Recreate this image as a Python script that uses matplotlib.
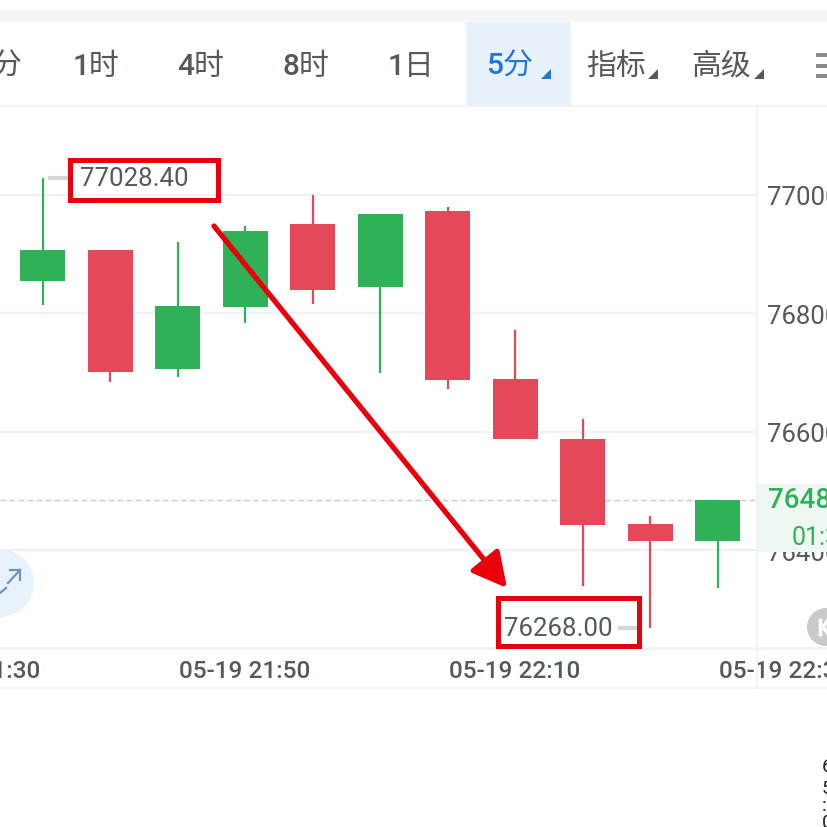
import matplotlib
matplotlib.use("Agg")
import matplotlib.pyplot as plt
from matplotlib.patches import Rectangle, Circle, Polygon

plt.rcParams['font.family'] = ['Roboto', 'Noto Sans CJK SC', 'DejaVu Sans']

# candle values
idx = [0, 1, 2, 3, 4, 5, 6, 7, 8, 9, 10]
opens = [76855, 76907, 76706, 76811, 76951, 76845, 76973, 76689, 76588, 76444, 76415]
closes = [76907, 76701, 76812, 76939, 76839, 76968, 76687, 76588, 76442, 76415, 76484]
highs = [77028.4, 76907, 76921, 76948, 77000, 76968, 76980, 76772, 76621, 76458, 76484]
lows = [76814, 76684, 76692, 76784, 76816, 76699, 76672, 76588, 76339, 76268, 76336]

price_ticks = [76400, 76600, 76800, 77000]
time_idx = [-1, 3, 7, 11]
time_labels = ['05-19 21:30', '05-19 21:50', '05-19 22:10', '05-19 22:30']
last_price = 76484
high_label = '77028.40'
low_label = '76268.00'

tabs = ['分', '1时', '4时', '8时', '1日', '5分', '指标', '高级']
tab_x = [7, 96, 201, 306, 411, 510, 616, 721]

GREEN = '#2fb158'
RED = '#e54858'
GREY = '#55585e'
W = 828

fig = plt.figure(figsize=(8.28, 8.28), dpi=100, facecolor='white')

# price chart, pixel box x 0-757, y 105-648
ax = fig.add_axes([0, (W - 649) / W, 757 / W, (648 - 105) / W])
ax.patch.set_alpha(0)
ax.set_xlim(-0.63, 10.585)
ax.set_ylim(76234.4, 77152)
for s in ax.spines.values():
    s.set_visible(False)
ax.yaxis.tick_right()
ax.set_yticks(price_ticks)
ax.set_yticklabels([str(p) for p in price_ticks])
ax.set_xticks([])
ax.tick_params(axis='y', length=0, pad=7.5, labelsize=18.5, labelcolor=GREY)
ax.grid(axis='y', color='#f0f1f3', lw=1.6)
ax.set_axisbelow(True)

ax.axhline(last_price, color='#c9cacc', lw=1, ls=(0, (4, 2.5)), zorder=1)

for i, o, c, h, l in zip(idx, opens, closes, highs, lows):
    col = GREEN if c >= o else RED
    ax.vlines(i, l, h, color=col, lw=1.6, zorder=2)
    ax.bar(i, abs(c - o), bottom=min(o, c), width=0.667, color=col, zorder=3)

for i, t in zip(time_idx, time_labels):
    ax.text(i, -0.041, t, transform=ax.get_xaxis_transform(), ha='center', va='center',
            fontsize=17.6, color=GREY, fontweight='medium')

# high / low markers
ax.plot([0.08, 0.4], [highs[0], highs[0]], color='#d5d6d8', lw=3, solid_capstyle='butt')
ax.plot([8.53, 8.8], [lows[9], lows[9]], color='#d5d6d8', lw=3, solid_capstyle='butt')
ax.text(0.55, highs[0], high_label, ha='left', va='center', fontsize=18.6, color=GREY, zorder=6)
ax.text(8.45, lows[9], low_label, ha='right', va='center', fontsize=18.6, color=GREY, zorder=6)

# everything else is in pixel coordinates on top
ov = fig.add_axes([0, 0, 1, 1])
ov.patch.set_alpha(0)
ov.set_xlim(0, W)
ov.set_ylim(W - 1, -1)
ov.axis('off')

ov.add_patch(Rectangle((0, 10), W, 12, color='#f5f6f8', lw=0))
ov.add_patch(Rectangle((466, 22), 105, 83, color='#e6f1fc', lw=0))
ov.plot([0, W], [105.5, 105.5], color='#f2f3f5', lw=1.5)
ov.plot([757, 757], [105, 688], color='#f2f3f5', lw=1.5)
ov.plot([0, W], [648, 648], color='#f0f1f3', lw=2)
ov.plot([0, W], [688, 688], color='#f2f3f5', lw=1.5)

for t, x in zip(tabs, tab_x):
    col = '#1f78d8' if t == '5分' else GREY
    ov.text(x, 66, t, ha='center', va='center', fontsize=21.5, color=col, fontweight='medium',
            family=['Roboto', 'Noto Sans CJK SC'])
for x, col in [(551, '#1f78d8'), (658, GREY), (764, GREY)]:
    ov.add_patch(Polygon([(x - 10, 79), (x, 79), (x, 69)], color=col, lw=0))

# menu icon at the right of the toolbar
for y in [53, 64, 74]:
    ov.add_patch(Rectangle((816, y), 12, 4, color='#8a8c90', lw=0))

# price tag on the axis
ov.add_patch(Rectangle((757, 484), 71, 68, color='#eef7f1', lw=0))
ov.text(768, 500, str(last_price), ha='left', va='center', fontsize=20, color=GREEN,
        fontweight='medium')
ov.text(792, 537, '01:30', ha='left', va='center', fontsize=18, color=GREEN)

# expand button and replay button
ov.add_patch(Circle((0, 583), 34, color='#e8f2fc', lw=0))
ov.plot([8, 20], [583, 570], color='#6d93c2', lw=1.6)
ov.plot([10, 20, 20], [570, 570, 580], color='#6d93c2', lw=1.6)
ov.plot([0, 6], [593, 588], color='#6d93c2', lw=1.6)
ov.add_patch(Circle((826, 627), 19, color='#c9cacc', lw=0))
ov.plot([820, 820], [620, 634], color='white', lw=2.5)
ov.plot([828, 823, 828], [620, 627, 634], color='white', lw=2.5)

# annotations
ov.add_patch(Rectangle((70.5, 160), 148, 40, fill=False, ec='#e8000b', lw=3.6, zorder=8))
ov.add_patch(Rectangle((498.5, 598), 141, 48, fill=False, ec='#e8000b', lw=3.6, zorder=8))
ov.annotate('', xy=(507, 588), xytext=(214, 226), zorder=8,
            arrowprops=dict(arrowstyle='-|>,head_length=0.95,head_width=0.5', color='#e8000b',
                            lw=3.8, shrinkA=0, shrinkB=0, mutation_scale=22))

# scrap of text at the bottom right corner
for y, s in [(766, '6'), (788, '5'), (805, ':'), (822, '0')]:
    ov.text(822, y, s, ha='left', va='center', fontsize=14, color='#222222')

fig.savefig('out.png', dpi=100)
